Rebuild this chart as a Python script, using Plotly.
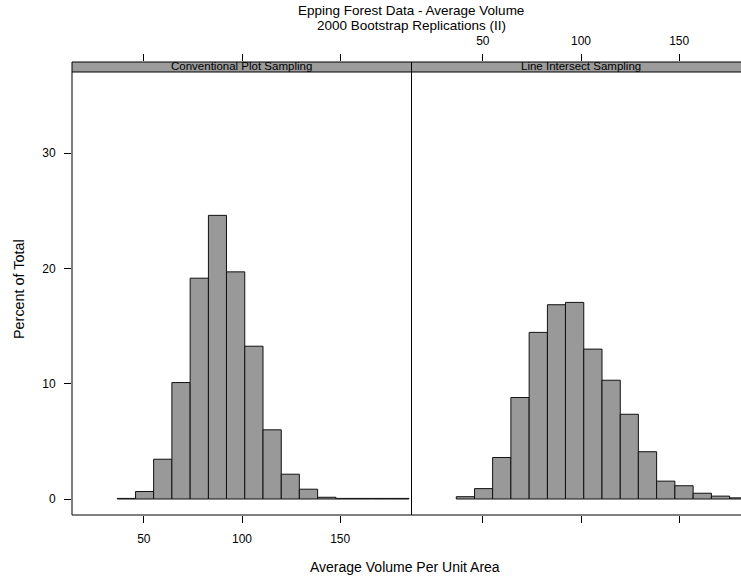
import plotly.graph_objects as go

W, H = 741, 579

# ---- data ----
breaks = [36.5, 45.8, 55.0, 64.3, 73.6, 82.9, 92.1, 101.4, 110.7,
          120.0, 129.2, 138.5, 147.8, 157.1, 166.4, 175.7, 185.0]
conventional_pct = [0.05, 0.65, 3.45, 10.1, 19.15, 24.6, 19.7, 13.25,
                    6.0, 2.15, 0.85, 0.15, 0.05, 0.05, 0.05, 0.05]
line_intersect_pct = [0.2, 0.9, 3.6, 8.8, 14.45, 16.85, 17.05, 13.0,
                      10.3, 7.35, 4.1, 1.55, 1.15, 0.5, 0.25, 0.1]
panel_names = ["Conventional Plot Sampling", "Line Intersect Sampling"]
x_ticks = [50, 100, 150]
y_ticks = [0, 10, 20, 30]
title_lines = ["Epping Forest Data - Average Volume",
               "2000 Bootstrap Replications (II)"]
x_title = "Average Volume Per Unit Area"
y_title = "Percent of Total"


def px(x):
    return x / W


def py(y):
    return 1 - y / H


FONT = "Liberation Sans, Arial, Helvetica, sans-serif"
BAR_FILL = "#999999"
STRIP_FILL = "#9c9c9c"

mids = [(a + b) / 2 for a, b in zip(breaks[:-1], breaks[1:])]
widths = [b - a for a, b in zip(breaks[:-1], breaks[1:])]

fig = go.Figure()
for vals, xa in [(conventional_pct, "x"), (line_intersect_pct, "x2")]:
    fig.add_trace(go.Bar(
        x=mids, y=vals, width=widths, xaxis=xa, yaxis="y",
        marker=dict(color=BAR_FILL, line=dict(color="#111111", width=1)),
        showlegend=False, hoverinfo="x+y"))

# panel geometry (pixels)
L, M, R = 72, 411.5, 741
TOP, STRIP_B, BOT = 62, 72, 515
scale = 1.964  # px per unit
left_range = [100 + (L - 242) / scale, 100 + (M - 242) / scale]
right_range = [100 + (M - 581) / scale, 100 + (R - 581) / scale]

common_x = dict(showgrid=False, zeroline=False, showline=False,
                ticks="outside", ticklen=7, tickwidth=1, tickcolor="black",
                tickvals=x_ticks, tickfont=dict(family=FONT, size=12, color="black"),
                anchor="y")

fig.update_layout(
    width=W, height=H,
    margin=dict(l=0, r=0, t=0, b=0),
    paper_bgcolor="white", plot_bgcolor="white",
    font=dict(family=FONT, color="black"),
    xaxis=dict(domain=[px(L), px(M)], range=left_range, side="bottom",
               showticklabels=True, ticklabelstandoff=6, **common_x),
    xaxis2=dict(domain=[px(M), 1], range=right_range, side="bottom",
                showticklabels=False, **common_x),
    xaxis3=dict(overlaying="x", range=left_range, side="top",
                showticklabels=False, **common_x),
    xaxis4=dict(overlaying="x2", range=right_range, side="top",
                showticklabels=True, ticklabelstandoff=4, **common_x),
    yaxis=dict(domain=[py(BOT), py(TOP)],
               range=[(499 - BOT) / 11.53, (499 - TOP) / 11.53],
               showgrid=False, zeroline=False, showline=False,
               ticks="outside", ticklen=7, tickwidth=1, tickcolor="black",
               tickvals=y_ticks, ticklabelstandoff=6,
               tickfont=dict(family=FONT, size=12, color="black"),
               anchor="x"),
)
# invisible traces so the top axes render
fig.add_trace(go.Scatter(x=[None], y=[None], xaxis="x3", yaxis="y", showlegend=False))
fig.add_trace(go.Scatter(x=[None], y=[None], xaxis="x4", yaxis="y", showlegend=False))

shapes = [
    dict(type="rect", xref="paper", yref="paper", x0=px(L), x1=1.0,
         y0=py(STRIP_B), y1=py(TOP), fillcolor=STRIP_FILL, line=dict(width=0),
         layer="below"),
    dict(type="rect", xref="paper", yref="paper", x0=px(L), x1=px(M),
         y0=py(BOT), y1=py(TOP), line=dict(color="black", width=1)),
    dict(type="line", xref="paper", yref="paper", x0=px(M), x1=1.0,
         y0=py(TOP), y1=py(TOP), line=dict(color="black", width=1)),
    dict(type="line", xref="paper", yref="paper", x0=px(M), x1=1.0,
         y0=py(BOT), y1=py(BOT), line=dict(color="black", width=1)),
    dict(type="line", xref="paper", yref="paper", x0=px(L), x1=1.0,
         y0=py(STRIP_B), y1=py(STRIP_B), line=dict(color="black", width=1)),
]
fig.update_layout(shapes=shapes)

ann = []
for name, cx in zip(panel_names, [(L + M) / 2, 581]):
    ann.append(dict(text=name, x=px(cx), y=py((TOP + STRIP_B) / 2 - 1.5),
                    xref="paper", yref="paper", showarrow=False,
                    xanchor="center", yanchor="middle",
                    font=dict(family=FONT, size=11.5, color="black")))
for line, yy in zip(title_lines, [11, 26]):
    ann.append(dict(text=line, x=px(411), y=py(yy), xref="paper", yref="paper",
                    showarrow=False, xanchor="center", yanchor="middle",
                    font=dict(family=FONT, size=13.5, color="black")))
ann.append(dict(text=x_title, x=px(405), y=py(567), xref="paper", yref="paper",
                showarrow=False, xanchor="center", yanchor="middle",
                font=dict(family=FONT, size=14, color="black")))
ann.append(dict(text=y_title, x=px(19), y=py(289), xref="paper", yref="paper",
                showarrow=False, xanchor="center", yanchor="middle", textangle=-90,
                font=dict(family=FONT, size=14.4, color="black")))
fig.update_layout(annotations=ann)

fig.write_html("out.html")
